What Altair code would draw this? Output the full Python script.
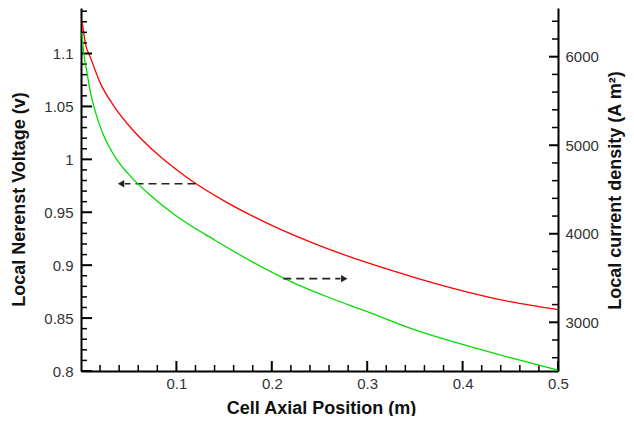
import altair as alt
import pandas as pd

# ---- data ----
red_x = [0.001, 0.005, 0.010, 0.020, 0.035, 0.055, 0.080, 0.110, 0.150, 0.200,
         0.250, 0.300, 0.350, 0.400, 0.450, 0.500]
red_v = [1.131, 1.108, 1.096, 1.0725, 1.0496, 1.027, 1.005, 0.9836, 0.9607, 0.9376,
         0.9185, 0.9023, 0.8883, 0.8758, 0.8655, 0.858]

green_x = [0.001, 0.003, 0.006, 0.010, 0.015, 0.023, 0.035, 0.050, 0.070, 0.100,
           0.140, 0.180, 0.220, 0.260, 0.300, 0.350, 0.400, 0.450, 0.500]
green_i = [6270, 6030, 5840, 5590, 5380, 5130, 4880, 4670, 4460, 4200,
           3930, 3680, 3460, 3280, 3120, 2915, 2750, 2600, 2460]

x_major = [0.1, 0.2, 0.3, 0.4, 0.5]
x_minor = [0.02, 0.04, 0.06, 0.08, 0.12, 0.14, 0.16, 0.18, 0.22, 0.24, 0.26, 0.28,
           0.32, 0.34, 0.36, 0.38, 0.42, 0.44, 0.46, 0.48]
v_major = [0.8, 0.85, 0.9, 0.95, 1.0, 1.05, 1.1]
v_minor = [0.81, 0.82, 0.83, 0.84, 0.86, 0.87, 0.88, 0.89, 0.91, 0.92, 0.93, 0.94,
           0.96, 0.97, 0.98, 0.99, 1.01, 1.02, 1.03, 1.04, 1.06, 1.07, 1.08, 1.09,
           1.11, 1.12, 1.13, 1.14]
i_major = [3000, 4000, 5000, 6000]
i_minor = [2600, 2800, 3200, 3400, 3600, 3800, 4200, 4400, 4600, 4800,
           5200, 5400, 5600, 5800, 6200, 6400]

arrow_left = {"x1": 0.120, "x2": 0.046, "head": 0.042, "y": 0.977}
arrow_right = {"x1": 0.212, "x2": 0.272, "head": 0.276, "y": 3493}

X_DOM = [0, 0.5]
V_DOM = [0.8, 1.143]
I_DOM = [2450, 6550]

W, H = 477, 363
FONT = "Liberation Sans"

df_red = pd.DataFrame({"x": red_x, "v": red_v})
df_green = pd.DataFrame({"x": green_x, "i": green_i})

xscale = alt.Scale(domain=X_DOM, nice=False, zero=False)
vscale = alt.Scale(domain=V_DOM, nice=False, zero=False)
iscale = alt.Scale(domain=I_DOM, nice=False, zero=False)

x_axis = alt.Axis(values=x_major, format="~g", title="Cell Axial Position (m)",
                  labelFlush=False, labelPadding=5,
                  titleX=240, titleY=37, titleBaseline="middle")
v_axis = alt.Axis(values=v_major, format="~g", title="Local Nerenst Voltage (v)",
                  labelPadding=8, titleAngle=270, titleX=-62, titleY=191,
                  titleBaseline="middle", titleAlign="center")
i_axis = alt.Axis(values=i_major, format="d", title="Local current density (A m²)",
                  orient="right", labelPadding=7, titleAngle=270, titleX=57,
                  titleY=182, titleBaseline="middle", titleAlign="center")

X = alt.X("x:Q", scale=xscale, axis=x_axis)

red_line = alt.Chart(df_red).mark_line(color="#ff0000", strokeWidth=1.3, interpolate="monotone").encode(
    x=X, y=alt.Y("v:Q", scale=vscale, axis=v_axis))

green_line = alt.Chart(df_green).mark_line(color="#00dd00", strokeWidth=1.3, interpolate="monotone").encode(
    x=X, y=alt.Y("i:Q", scale=iscale, axis=i_axis))

# inward ticks
xt_major = alt.Chart(pd.DataFrame({"x": x_major})).mark_rule(color="black", strokeWidth=2).encode(
    x=alt.X("x:Q", scale=xscale), y=alt.value(H), y2=alt.value(H - 10))
xt_minor = alt.Chart(pd.DataFrame({"x": x_minor})).mark_rule(color="black", strokeWidth=1.5).encode(
    x=alt.X("x:Q", scale=xscale), y=alt.value(H), y2=alt.value(H - 6))
vt_major = alt.Chart(pd.DataFrame({"v": v_major})).mark_rule(color="black", strokeWidth=2).encode(
    y=alt.Y("v:Q", scale=vscale, axis=v_axis), x=alt.value(0), x2=alt.value(11))
vt_minor = alt.Chart(pd.DataFrame({"v": v_minor})).mark_rule(color="black", strokeWidth=1.5).encode(
    y=alt.Y("v:Q", scale=vscale, axis=v_axis), x=alt.value(0), x2=alt.value(6))
it_major = alt.Chart(pd.DataFrame({"i": i_major})).mark_rule(color="black", strokeWidth=2).encode(
    y=alt.Y("i:Q", scale=iscale, axis=i_axis), x=alt.value(W - 9), x2=alt.value(W))
it_minor = alt.Chart(pd.DataFrame({"i": i_minor})).mark_rule(color="black", strokeWidth=1.5).encode(
    y=alt.Y("i:Q", scale=iscale, axis=i_axis), x=alt.value(W - 6), x2=alt.value(W))

# arrows
dfl = pd.DataFrame([arrow_left])
dfr = pd.DataFrame([arrow_right])
al_line = alt.Chart(dfl).mark_rule(color="#222222", strokeWidth=1.6, strokeDash=[8, 5]).encode(
    x=alt.X("x1:Q", scale=xscale), x2="x2:Q", y=alt.Y("y:Q", scale=vscale, axis=v_axis))
al_head = alt.Chart(dfl).mark_point(shape="triangle-left", filled=True, size=55, color="#222222", opacity=1).encode(
    x=alt.X("head:Q", scale=xscale), y=alt.Y("y:Q", scale=vscale, axis=v_axis))
ar_line = alt.Chart(dfr).mark_rule(color="#222222", strokeWidth=1.6, strokeDash=[8, 5]).encode(
    x=alt.X("x1:Q", scale=xscale), x2="x2:Q", y=alt.Y("y:Q", scale=iscale, axis=i_axis))
ar_head = alt.Chart(dfr).mark_point(shape="triangle-right", filled=True, size=55, color="#222222", opacity=1).encode(
    x=alt.X("head:Q", scale=xscale), y=alt.Y("y:Q", scale=iscale, axis=i_axis))

left = alt.layer(red_line, vt_major, vt_minor, xt_major, xt_minor, al_line, al_head)
right = alt.layer(green_line, it_major, it_minor, ar_line, ar_head)

chart = alt.layer(left, right).resolve_scale(y="independent").properties(
    width=W, height=H,
    autosize=alt.AutoSizeParams(type="none"),
    padding={"left": 73, "top": 0, "right": 68, "bottom": 45},
).configure_view(stroke=None).configure_axis(
    grid=False, ticks=False, tickSize=0,
    domainColor="black", domainWidth=2,
    labelFont=FONT, labelFontSize=15, labelColor="#333333",
    titleFont=FONT, titleFontSize=18, titleFontWeight="bold", titleColor="#111111",
)

chart.save("out.html", embed_options={"renderer": "svg", "actions": False})
